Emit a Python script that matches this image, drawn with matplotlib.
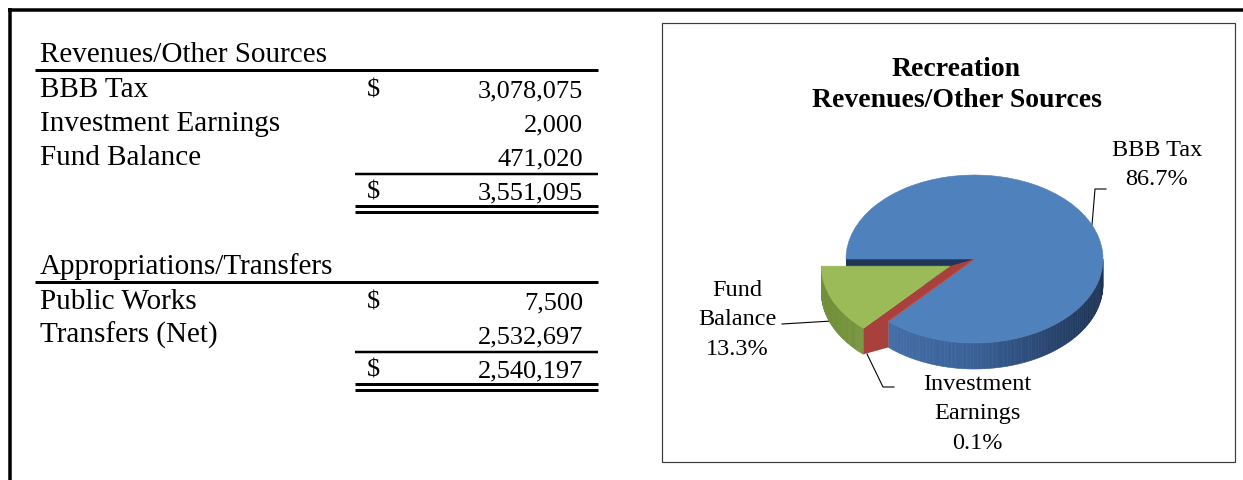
import numpy as np
import matplotlib
matplotlib.use("Agg")
import matplotlib.pyplot as plt
from matplotlib.patches import Rectangle, Polygon
from matplotlib.collections import PolyCollection
from matplotlib.colors import LinearSegmentedColormap

# table data
rev_title = "Revenues/Other Sources"
rev_labels = ["BBB Tax", "Investment Earnings", "Fund Balance"]
rev_values = [3078075, 2000, 471020]

app_title = "Appropriations/Transfers"
app_labels = ["Public Works", "Transfers (Net)"]
app_values = [7500, 2532697]

# pie (same revenue numbers)
chart_title = ["Recreation", "Revenues/Other Sources"]
pie_names = [["BBB Tax"], ["Investment", "Earnings"], ["Fund", "Balance"]]
pie_colors = ["#4F81BD", "#C0504D", "#9BBB59"]
pie_explode = [0, 0, 0.21]

W, H = 1243, 481
PX = 0.72  # points per pixel at dpi 100
SERIF = "Liberation Serif"

fig = plt.figure(figsize=(W / 100, H / 100), dpi=100)
fig.patch.set_facecolor("white")
base = fig.add_axes([0, 0, 1, 1])
base.set_xlim(0, W)
base.set_ylim(H, 0)
base.axis("off")

# page border (top and left)
base.plot([8, W], [11, 11], color="black", lw=3.5 * PX, solid_capstyle="butt")
base.plot([10, 10], [9, H], color="black", lw=3.5 * PX, solid_capstyle="butt")


def hline(x0, x1, y, w=3):
    base.plot([x0, x1], [y, y], color="black", lw=w * PX, solid_capstyle="butt")


def section(y, title, labels, values):
    base.text(40, y, title, family=SERIF, fontsize=21, va="baseline")
    hline(35, 598, y + 9)
    yb = y + 35
    for i, (lab, val) in enumerate(zip(labels, values)):
        yy = yb + 34 * i
        base.text(40, yy, lab, family=SERIF, fontsize=21, va="baseline")
        if i == 0:
            base.text(373, yy, "$", family=SERIF, fontsize=19, va="baseline", ha="center")
        base.text(583, yy, f"{val:,}", family=SERIF, fontsize=19, va="baseline", ha="right")
    yl = yb + 34 * (len(labels) - 1) + 10
    hline(355, 598, yl, 2.5)
    yt = yl + 24
    base.text(373, yt, "$", family=SERIF, fontsize=19, va="baseline", ha="center")
    base.text(583, yt, f"{sum(values):,}", family=SERIF, fontsize=19, va="baseline", ha="right")
    hline(355, 598, yt + 8)
    hline(355, 598, yt + 14)


section(62, rev_title, rev_labels, rev_values)
section(274, app_title, app_labels, app_values)

# chart frame
base.add_patch(Rectangle((662, 24), 1235 - 662, 463 - 24, fill=False,
                         edgecolor="#3c3c3c", lw=1.2 * PX))

for i, s in enumerate(chart_title):
    base.text(956.5, 76 + 31 * i, s, family=SERIF, fontsize=20, fontweight="bold",
              ha="center", va="baseline")

# ---- pseudo 3D pie ----
cx, cy, rx, ry = 974.5, 260, 128.5, 84
xl, yl = (-1.6, 1.6), (-1.8, 1.4)
left = cx + xl[0] * rx
bottom = cy - yl[0] * ry
pax = fig.add_axes([left / W, (H - bottom) / H, (xl[1] - xl[0]) * rx / W,
                    (yl[1] - yl[0]) * ry / H])
depth = 26 / ry

wedges, _ = pax.pie(rev_values, explode=pie_explode, colors=pie_colors, startangle=180,
                    counterclock=False, radius=1,
                    wedgeprops=dict(linewidth=0.4, antialiased=True))
for w in wedges:
    w.set_edgecolor(w.get_facecolor())
pax.set_aspect("auto")
pax.set_xlim(*xl)
pax.set_ylim(*yl)
pax.axis("off")

blue, red, green = wedges
blue.set_zorder(5)
red.set_zorder(5)
green.set_zorder(6)


def wall(w, cols, z):
    a0 = max(w.theta1, -180)
    a1 = min(w.theta2, 0)
    if a1 <= a0:
        return
    cmap = LinearSegmentedColormap.from_list("w", cols)
    th = np.radians(np.linspace(a0, a1, 80))
    x0, y0 = w.center
    polys, fcs = [], []
    for t0, t1 in zip(th[:-1], th[1:]):
        p = [(x0 + np.cos(t0), y0 + np.sin(t0)), (x0 + np.cos(t1), y0 + np.sin(t1)),
             (x0 + np.cos(t1), y0 + np.sin(t1) - depth), (x0 + np.cos(t0), y0 + np.sin(t0) - depth)]
        polys.append(p)
        fcs.append(cmap((np.cos(0.5 * (t0 + t1)) + 1) / 2))
    pc = PolyCollection(polys, facecolors=fcs, edgecolors=fcs, linewidths=0.4, zorder=z)
    pax.add_collection(pc)


# blue cut face at the start angle (seen as the dark strip)
bx, by = blue.center
t_start = np.radians(blue.theta2)
pax.add_patch(Polygon([(bx, by), (bx + np.cos(t_start), by + np.sin(t_start)),
                       (bx + np.cos(t_start), by + np.sin(t_start) - depth), (bx, by - depth)],
                      closed=True, facecolor="#1F3658", edgecolor="none", zorder=1))

wall(green, ["#72903A", "#7E9B43", "#8FAD4E"], 2)
wall(blue, ["#4A74AE", "#3A6198", "#1D3354"], 3)

# gap between the exploded slice and the rest, showing the small slice
gx, gy = green.center
tg = np.radians(green.theta2)
tb = np.radians(blue.theta1)
G1 = (gx + np.cos(tg), gy + np.sin(tg))
B1 = (bx + np.cos(tb), by + np.sin(tb))
pax.add_patch(Polygon([(gx, gy), G1, (G1[0], G1[1] - depth), (B1[0], B1[1] - depth), B1, (bx, by)],
                      closed=True, facecolor="#A8403B", edgecolor="none", zorder=4))

# ---- data labels ----
total = sum(rev_values)
pcts = [v / total * 100 for v in rev_values]
label_pos = [(1157, 156), (977, 390), (737, 296)]
for names, p, (lx, ly) in zip(pie_names, pcts, label_pos):
    for i, s in enumerate(names + [f"{p:.1f}%"]):
        base.text(lx, ly + 29.5 * i, s, family=SERIF, fontsize=17.5, ha="center", va="baseline")

leaders = [[(1092, 226), (1095, 190), (1106, 190)],
           [(867, 355), (883, 388), (894, 388)],
           [(782, 325), (832, 322)]]
for seg in leaders:
    xs, ys = zip(*seg)
    base.plot(xs, ys, color="black", lw=1.1 * PX)

fig.savefig("out.png", dpi=100, facecolor="white")
